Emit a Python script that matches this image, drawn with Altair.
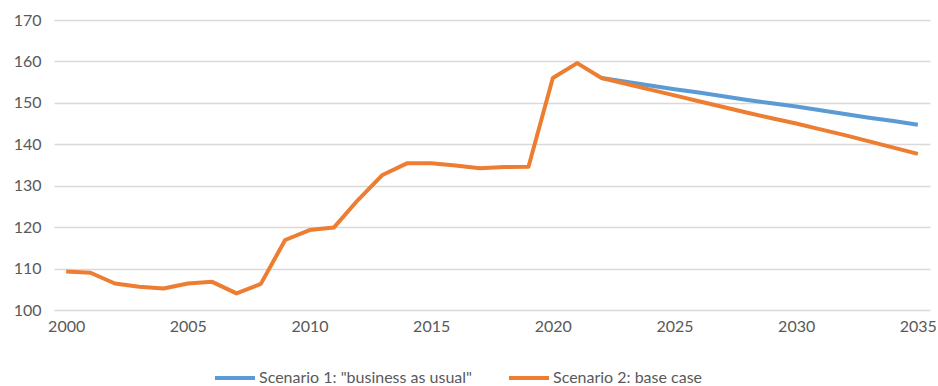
import altair as alt
import pandas as pd

years_hist = list(range(2000, 2023))
hist_values = [109.3, 109.0, 106.4, 105.6, 105.2, 106.4, 106.8, 104.0, 106.3, 116.9,
               119.3, 119.9, 126.6, 132.6, 135.4, 135.4, 134.9, 134.2, 134.5, 134.6,
               156.0, 159.6, 156.0]
years_proj = list(range(2022, 2036))
s1_proj = [156.0, 155.1, 154.2, 153.3, 152.5, 151.6, 150.7, 149.9, 149.1, 148.2,
           147.3, 146.4, 145.6, 144.7]
s2_proj = [156.0, 154.6, 153.2, 151.8, 150.4, 149.0, 147.6, 146.3, 145.0, 143.6,
           142.2, 140.7, 139.2, 137.7]

series_names = ['Scenario 1: "business as usual"', "Scenario 2: base case"]
series_colors = ["#5B9BD5", "#ED7D31"]

s1 = pd.DataFrame({"year": years_proj, "value": s1_proj, "series": series_names[0]})
s2 = pd.DataFrame({
    "year": years_hist + years_proj[1:],
    "value": hist_values + s2_proj[1:],
    "series": series_names[1],
})

FONT = "Lato"
GREY = "#595959"
FS = 16

x = alt.X("year:Q",
          scale=alt.Scale(domain=[1999.5, 2035.5], nice=False, zero=False),
          axis=alt.Axis(values=[2000, 2005, 2010, 2015, 2020, 2025, 2030, 2035],
                        format="d", grid=False, domain=False, ticks=False,
                        labelPadding=8, labelFontSize=FS, labelColor=GREY,
                        labelFont=FONT, title=None))
y = alt.Y("value:Q",
          scale=alt.Scale(domain=[100, 170], nice=False, zero=False),
          axis=alt.Axis(values=[100, 110, 120, 130, 140, 150, 160, 170],
                        grid=True, gridColor="#D9D9D9", gridWidth=1.3,
                        domain=False, ticks=False, labelPadding=13,
                        labelFontSize=FS, labelColor=GREY, labelFont=FONT,
                        title=None))
color = alt.Color("series:N",
                  scale=alt.Scale(domain=series_names, range=series_colors),
                  legend=alt.Legend(orient="none", direction="horizontal",
                                    legendX=159, legendY=336, title=None,
                                    symbolType="stroke", symbolSize=1600,
                                    symbolStrokeWidth=4, labelFontSize=FS,
                                    labelColor=GREY, labelFont=FONT,
                                    labelOffset=2, columnPadding=29,
                                    labelLimit=400))

l1 = alt.Chart(s1).mark_line(strokeWidth=4, strokeJoin="round").encode(x=x, y=y, color=color)
l2 = alt.Chart(s2).mark_line(strokeWidth=4, strokeJoin="round").encode(x=x, y=y, color=color)

chart = alt.layer(l1, l2).properties(
    width=876, height=290,
    autosize=alt.AutoSizeParams(type="none"),
    padding={"left": 54, "top": 20, "right": 8, "bottom": 76},
    background="white",
).configure_view(stroke=None)

chart.save("out.html", embed_options={"renderer": "svg", "actions": False})
